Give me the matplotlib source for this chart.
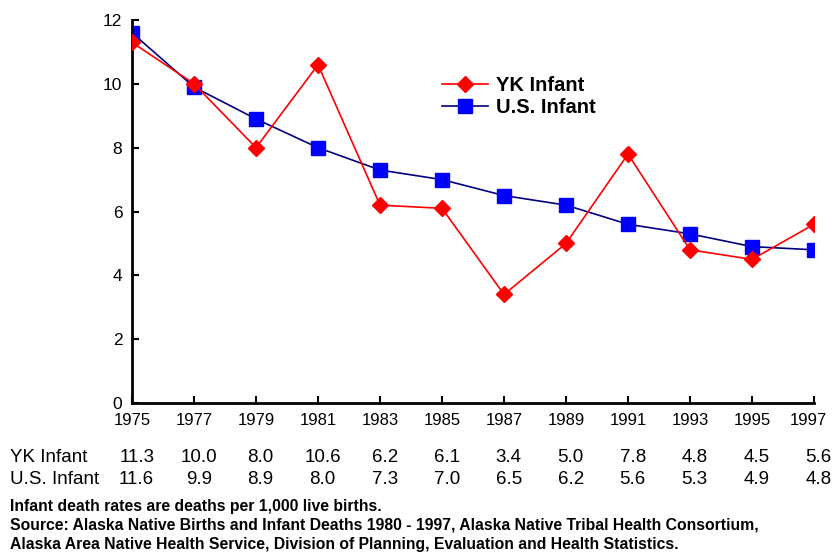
import matplotlib.pyplot as plt
import matplotlib.transforms as mtransforms

years = [1975, 1977, 1979, 1981, 1983, 1985, 1987, 1989, 1991, 1993, 1995, 1997]
yk_infant = [11.3, 10.0, 8.0, 10.6, 6.2, 6.1, 3.4, 5.0, 7.8, 4.8, 4.5, 5.6]
us_infant = [11.6, 9.9, 8.9, 8.0, 7.3, 7.0, 6.5, 6.2, 5.6, 5.3, 4.9, 4.8]
yticks = [0, 2, 4, 6, 8, 10, 12]

notes = [
    "Infant death rates are deaths per 1,000 live births.",
    "Source: Alaska Native Births and Infant Deaths 1980 - 1997, Alaska Native Tribal Health Consortium,",
    "Alaska Area Native Health Service, Division of Planning, Evaluation and Health Statistics.",
]

plt.rcParams["font.family"] = ["Liberation Sans", "DejaVu Sans"]

fig = plt.figure(figsize=(8.33, 5.57), dpi=100)
ax = fig.add_axes([0.1585, 0.2765, 0.8187, 0.6875])

ax.plot(years, yk_infant, color="red", lw=1.2, marker="D", ms=8.5,
        mfc="red", mec="red", label="YK Infant", zorder=3)
ax.plot(years, us_infant, color="#000080", lw=1.2, marker="s", ms=10.5,
        mfc="blue", mec="blue", label="U.S. Infant", zorder=2)

ax.set_xlim(1975, 1997)
ax.set_ylim(0, 12)
ax.set_xticks(years)
ax.set_yticks(yticks)
ax.tick_params(direction="in", length=5, width=1.5, labelsize=12.5)
ax.tick_params(axis="y", pad=7)
ax.tick_params(axis="x", pad=7.5, labelsize=12)
ax.spines["top"].set_visible(False)
ax.spines["right"].set_visible(False)
ax.spines["left"].set_linewidth(2)
ax.spines["bottom"].set_linewidth(2)
for s in ax.spines.values():
    s.set_clip_on(False)

# nudge the last year label inward so it stays on the canvas
last = ax.get_xticklabels()[-1]
last.set_transform(last.get_transform() +
                   mtransforms.ScaledTranslation(-4 / 72, 0, fig.dpi_scale_trans))

leg = ax.legend(loc="upper left", bbox_to_anchor=(0.428, 0.9), frameon=False,
                prop={"weight": "bold", "size": 14.5}, handlelength=2.3,
                handletextpad=0.4, labelspacing=0.15)

# data table under the axis
trans = mtransforms.blended_transform_factory(ax.transData, fig.transFigure)
fig.text(0.012, 1 - 457 / 557, "YK Infant", fontsize=13.5, va="center")
fig.text(0.012, 1 - 479 / 557, "U.S. Infant", fontsize=13.5, va="center")
for x, a, b in zip(years, yk_infant, us_infant):
    ax.text(x + 0.15, 1 - 457 / 557, f"{a:.1f}", transform=trans, fontsize=13.5,
            ha="center", va="center", clip_on=False)
    ax.text(x + 0.15, 1 - 479 / 557, f"{b:.1f}", transform=trans, fontsize=13.5,
            ha="center", va="center", clip_on=False)

for i, line in enumerate(notes):
    fig.text(0.012, 1 - (506 + i * 19) / 557, line, fontsize=11.3,
             va="center", weight="bold")

fig.savefig("out.png", dpi=100)
